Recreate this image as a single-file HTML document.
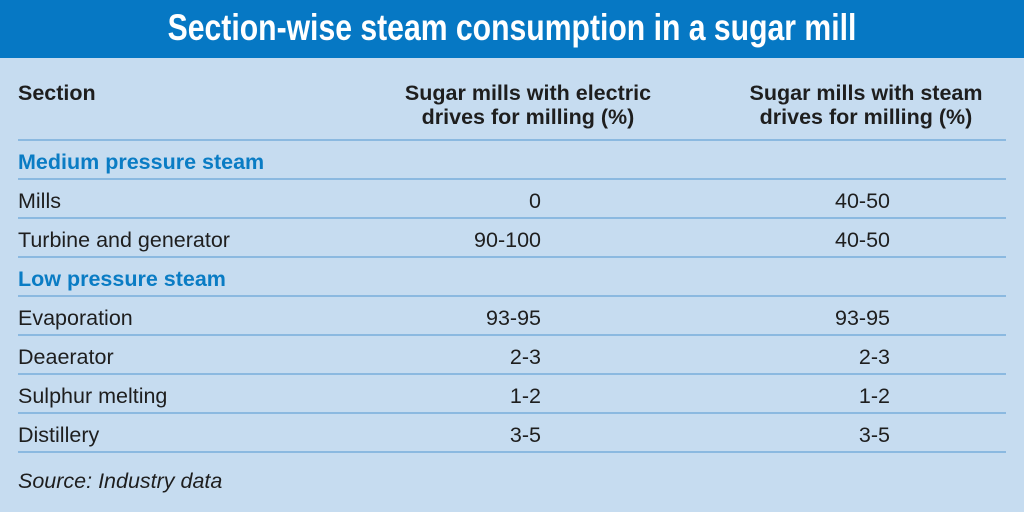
<!DOCTYPE html>
<html><head><style>
body{margin:0;width:1024px;height:512px;background:#c6dcf0;font-family:"Liberation Sans",sans-serif;position:relative;overflow:hidden;color:#1e1e1e}
.bar{position:absolute;left:0;top:0;width:1024px;height:58px;background:#0678c4}
.title{position:absolute;left:0;top:6px;width:1024px;text-align:center;color:#fff;font-weight:bold;font-size:37px;line-height:44px;transform:scaleX(0.815);transform-origin:512px 0}
.t{position:absolute;font-size:21.5px;line-height:24px;white-space:nowrap}
.b{font-weight:bold}
.blue{color:#0a7cc4;font-weight:bold}
.r{text-align:right}
.c{text-align:center}
.line{position:absolute;left:18px;width:988px;height:2px;background:#8bb9e0}
</style></head><body>
<div class="bar"></div>
<div class="title">Section-wise steam consumption in a sugar mill</div>
<div class="t b" style="left:18px;top:81px">Section</div>
<div class="t b c" style="left:378px;width:300px;top:81px">Sugar mills with electric<br>drives for milling (%)</div>
<div class="t b c" style="left:716px;width:300px;top:81px">Sugar mills with steam<br>drives for milling (%)</div>
<div class="line" style="top:139px"></div>
<div class="t blue" style="left:18px;top:150px">Medium pressure steam</div>
<div class="line" style="top:178px"></div>
<div class="t" style="left:18px;top:189px">Mills</div>
<div class="t r" style="left:341px;width:200px;top:189px">0</div>
<div class="t r" style="left:690px;width:200px;top:189px">40-50</div>
<div class="line" style="top:217px"></div>
<div class="t" style="left:18px;top:228px">Turbine and generator</div>
<div class="t r" style="left:341px;width:200px;top:228px">90-100</div>
<div class="t r" style="left:690px;width:200px;top:228px">40-50</div>
<div class="line" style="top:256px"></div>
<div class="t blue" style="left:18px;top:267px">Low pressure steam</div>
<div class="line" style="top:295px"></div>
<div class="t" style="left:18px;top:306px">Evaporation</div>
<div class="t r" style="left:341px;width:200px;top:306px">93-95</div>
<div class="t r" style="left:690px;width:200px;top:306px">93-95</div>
<div class="line" style="top:334px"></div>
<div class="t" style="left:18px;top:345px">Deaerator</div>
<div class="t r" style="left:341px;width:200px;top:345px">2-3</div>
<div class="t r" style="left:690px;width:200px;top:345px">2-3</div>
<div class="line" style="top:373px"></div>
<div class="t" style="left:18px;top:384px">Sulphur melting</div>
<div class="t r" style="left:341px;width:200px;top:384px">1-2</div>
<div class="t r" style="left:690px;width:200px;top:384px">1-2</div>
<div class="line" style="top:412px"></div>
<div class="t" style="left:18px;top:423px">Distillery</div>
<div class="t r" style="left:341px;width:200px;top:423px">3-5</div>
<div class="t r" style="left:690px;width:200px;top:423px">3-5</div>
<div class="line" style="top:451px"></div>
<div class="t" style="left:18px;top:469px;font-style:italic">Source: Industry data</div>
</body></html>
